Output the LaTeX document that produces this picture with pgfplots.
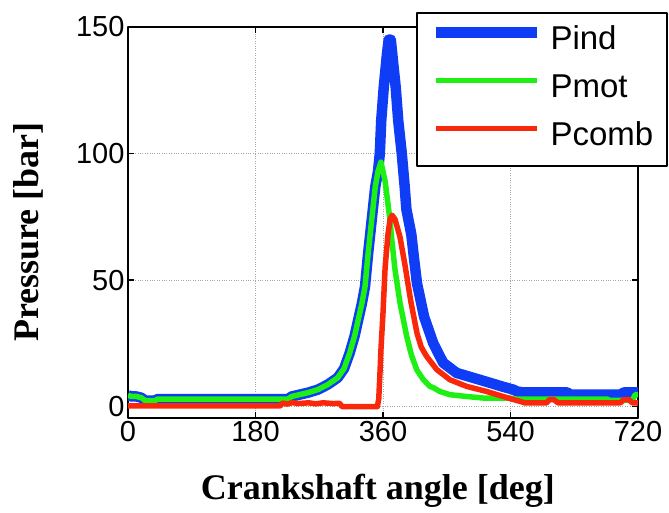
\documentclass[border=0pt]{standalone}
\usepackage{pgfplots}
\pgfplotsset{compat=1.18}
\usepackage{pgfplotstable}
\usepackage{fontspec}
\setmainfont{Liberation Serif}
\newfontfamily\arialf{Liberation Sans}
\definecolor{cblue}{RGB}{15,60,245}
\definecolor{cgreen}{RGB}{30,240,20}
\definecolor{cred}{RGB}{250,40,10}

\pgfplotstableread{
x y
0 4.5
5 4.0
12 4.0
19 3.5
24 2.4
38 2.4
42 3.0
226 3.0
231 4.0
254 5.5
268 6.7
282 8.7
296 11.4
305 15
313 21.2
320 28
325 34.3
330 40.5
334.6 47.4
339 60.5
344 73.6
349 86.7
353 93
355.5 100
357.5 113
361 126
365.5 139
368 145
371 145
375 134
378 126
381.5 113
386.5 100
390.6 87
393 78
400 68
404 58
408 48.7
418 35.5
431 25
445 17.3
464 13.3
487 11.4
511 9.4
530 7.8
544 6.7
549 6.0
558 5.6
620 5.6
625 4.7
695 4.7
700 5.6
720 5.6
}\pind

\pgfplotstableread{
x y
0 4.5
5 4.0
12 4.0
19 3.5
24 2.4
38 2.4
42 3.0
226 3.0
231 4.0
254 5.5
268 6.7
282 8.7
296 11.4
305 15
313 21.2
320 28
325 34.3
330 40.5
334.6 47.4
339 60.5
344 73.6
349 86.7
353 93
357 96.6
360 93
363 89
367.5 78.9
370 73.6
372 67
377 54
384 41
393.5 27.7
400 20.5
407.6 14.6
416 11
426 8
431 7.5
440 6
454.6 4.7
478 4.0
501 3.4
539 3.4
545 3.0
676 3.0
680 2.5
712 2.5
716 4.7
720 4.7
}\pmot

\pgfplotstableread{
x y
0 0.3
215 0.3
218 1.4
225 1.0
232 1.6
240 1.2
255 1.5
265 1.1
275 1.5
290 1.2
299 1.3
302 0.0
352 0.0
354 3
356 15
357 22
360 37
363 55
367 68
370 74
373 75.6
377 74
384 67
391 56
399 42
408 29
414 23.5
421.7 19.8
436 14.6
454.6 10.6
478 8
506 6
539 3.2
553 2.1
560 1.5
591 1.5
595 2.8
601 2.8
607 1.5
695 1.5
700 2.8
707 2.8
712 1.5
720 1.5
}\pcomb

\begin{document}
\begin{tikzpicture}
\useasboundingbox (-128pt,-95pt) rectangle (541pt,418pt);
\begin{axis}[
  at={(0,0)}, anchor=south west,
  scale only axis, width=510pt, height=391pt,
  xmin=0, xmax=720, ymin=-4.5, ymax=150,
  xtick={0,180,360,540,720}, ytick={0,50,100,150},
  grid=major,
  major grid style={dotted, gray!70, line width=0.9pt},
  axis line style={line width=2pt},
  tick style={black, line width=1.2pt},
  tick align=inside, major tick length=6pt,
  ticklabel style={font=\arialf\fontsize{29}{29}\selectfont},
  /pgf/number format/assume math mode=true,
  xlabel={Crankshaft angle [deg]},
  ylabel={Pressure [bar]},
  label style={font=\fontsize{36}{36}\selectfont\bfseries},
  x label style={at={(axis description cs:0.49,-0.2097)}, anchor=base},
  y label style={at={(axis description cs:-0.195,0.476)}, anchor=center},
  legend style={at={(axis description cs:1.0588,1.038)}, anchor=north east,
    draw=black, line width=1.5pt, fill=white,
    font=\arialf\fontsize{33}{33}\selectfont,
    inner xsep=14pt, inner ysep=14.5pt,
    nodes={inner sep=0pt, text height=22pt, text depth=6pt},
    row sep=20pt,
    /tikz/every odd column/.append style={column sep=8pt}},
  legend cell align=left,
  legend image code/.code={\draw[#1] (0pt,9pt) -- (101pt,9pt);},
  line join=round,
]
\addplot[cblue, line width=10.5pt] table {\pind};
\addlegendentry{Pind}
\addplot[cgreen, line width=5.5pt] table {\pmot};
\addlegendentry{Pmot}
\addplot[cred, line width=5.5pt] table {\pcomb};
\addlegendentry{Pcomb}
\end{axis}
\end{tikzpicture}
\end{document}
